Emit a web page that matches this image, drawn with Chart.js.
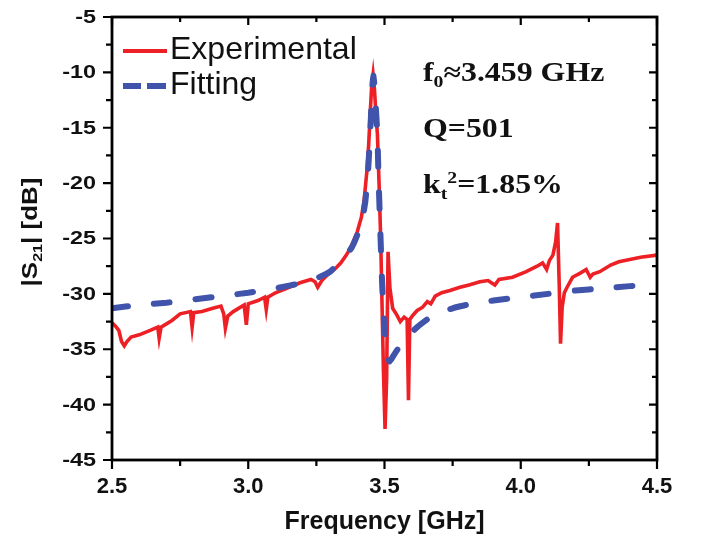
<!DOCTYPE html>
<html>
<head>
<meta charset="utf-8">
<script src="https://cdn.jsdelivr.net/npm/chart.js@4.4.1/dist/chart.umd.min.js"></script>
<style>
  html, body { margin: 0; padding: 0; background: #fff; }
</style>
</head>
<body>
<canvas id="s21Chart" width="701" height="538"></canvas>
<script>
// measured |S21| (GHz, dB)
const freqExp = [
  2.500, 2.512, 2.525, 2.535, 2.545, 2.555, 2.570, 2.600, 2.640, 2.668,
  2.673, 2.680, 2.720, 2.750, 2.788, 2.794, 2.800, 2.830, 2.870, 2.900,
  2.910, 2.916, 2.925, 2.945, 2.985, 2.993, 3.000, 3.036, 3.060, 3.066,
  3.072, 3.100, 3.150, 3.190, 3.230, 3.245, 3.255, 3.270, 3.290, 3.320,
  3.340, 3.360, 3.376, 3.400, 3.415, 3.425, 3.435, 3.442, 3.448, 3.453,
  3.458, 3.463, 3.468, 3.474, 3.480, 3.486, 3.491, 3.496, 3.502, 3.508,
  3.513, 3.520, 3.530, 3.545, 3.558, 3.572, 3.583, 3.588, 3.593, 3.605,
  3.620, 3.640, 3.657, 3.670, 3.686, 3.710, 3.740, 3.777, 3.810, 3.850,
  3.880, 3.905, 3.920, 3.970, 4.020, 4.060, 4.080, 4.095, 4.105, 4.118,
  4.128, 4.135, 4.141, 4.146, 4.152, 4.160, 4.170, 4.190, 4.220, 4.240,
  4.255, 4.265, 4.290, 4.330, 4.360, 4.400, 4.440, 4.500
];
const s21Exp = [
  -32.6, -32.9, -33.3, -34.3, -34.7, -34.3, -33.9, -33.7, -33.3, -33.0,
  -34.0, -33.0, -32.4, -31.8, -31.6, -33.0, -31.7, -31.6, -31.3, -31.1,
  -31.8, -33.1, -32.0, -31.6, -31.0, -32.8, -30.9, -30.6, -30.3, -31.4,
  -30.3, -29.9, -29.4, -29.0, -28.7, -28.9, -29.4, -28.8, -28.3, -27.7,
  -27.2, -26.5, -25.8, -24.4, -23.1, -21.6, -19.0, -16.5, -13.5, -11.2,
  -10.2, -11.5, -13.5, -15.6, -20.0, -25.0, -31.0, -36.8, -42.2, -37.5,
  -26.2, -29.5, -31.3, -31.9, -32.5, -32.1, -32.3, -39.6, -32.3, -31.9,
  -31.5, -31.2, -30.7, -30.9, -30.2, -29.9, -29.7, -29.4, -29.2, -28.9,
  -28.8, -29.2, -28.7, -28.5, -28.0, -27.5, -27.2, -27.8, -27.0, -26.5,
  -25.3, -23.6, -29.0, -34.5, -31.2, -29.9, -29.4, -28.5, -28.1, -27.8,
  -28.5, -28.2, -28.0, -27.4, -27.1, -26.9, -26.7, -26.5
];

// fitted curve (GHz, dB)
const freqFit = [
  2.50, 2.60, 2.70, 2.80, 2.90, 3.00, 3.10, 3.20, 3.25, 3.30,
  3.35, 3.38, 3.40, 3.42, 3.43, 3.44, 3.445, 3.45, 3.455, 3.459,
  3.463, 3.468, 3.474, 3.478, 3.485, 3.490, 3.495, 3.500, 3.505, 3.510,
  3.518, 3.525, 3.540, 3.570, 3.620, 3.680, 3.75, 3.80, 3.90, 4.00,
  4.10, 4.20, 4.30, 4.40, 4.50
];
const s21Fit = [
  -31.3, -31.0, -30.8, -30.5, -30.2, -29.9, -29.5, -29.0, -28.6, -28.0,
  -26.8, -25.8, -24.7, -23.1, -21.6, -18.8, -16.6, -14.1, -11.3, -10.3,
  -11.1, -13.1, -15.6, -19.4, -24.6, -28.2, -31.2, -33.2, -34.5, -35.5,
  -36.1, -35.9, -35.3, -34.2, -33.0, -31.9, -31.3, -31.0, -30.6, -30.3,
  -30.0, -29.7, -29.5, -29.3, -29.1
];

const seriesLabels = ['Experimental', 'Fitting'];
const xMajorTicks = [2.5, 3.0, 3.5, 4.0, 4.5];
const xMinorTicks = [2.75, 3.25, 3.75, 4.25];
const yMajorTicks = [-45, -40, -35, -30, -25, -20, -15, -10, -5];
const yMinorTicks = [-42.5, -37.5, -32.5, -27.5, -22.5, -17.5, -12.5, -7.5];

const RED = 'rgb(237, 32, 38)';
const BLUE = 'rgb(64, 84, 172)';
const SANS = "'Liberation Sans', Arial, sans-serif";
const SERIF = "'Liberation Serif', 'Times New Roman', serif";

Chart.defaults.font.family = SANS;
Chart.defaults.color = '#111';

// draws text pieces with sub/superscripts, stretched along the baseline like the original
function drawRich(ctx, parts, x, y, size, family, weight, stretch) {
  ctx.save();
  ctx.translate(x, y);
  ctx.scale(stretch, 1);
  let cx = 0;
  parts.forEach(p => {
    let fs = size, dy = 0;
    if (p.sub) { fs = size * 0.62; dy = size * 0.22; }
    if (p.sup) { fs = size * 0.62; dy = -size * 0.38; }
    ctx.font = weight + ' ' + fs + 'px ' + family;
    ctx.fillText(p.t, cx, dy);
    cx += ctx.measureText(p.t).width;
  });
  ctx.restore();
  return cx * stretch;
}

function richWidth(ctx, parts, size, family, weight, stretch) {
  let w = 0;
  parts.forEach(p => {
    const fs = (p.sub || p.sup) ? size * 0.62 : size;
    ctx.font = weight + ' ' + fs + 'px ' + family;
    w += ctx.measureText(p.t).width;
  });
  return w * stretch;
}

const decorations = {
  id: 'decorations',
  afterDatasetsDraw(chart) {
    const ctx = chart.ctx;
    const a = chart.chartArea;
    const xs = chart.scales.x, ys = chart.scales.y;
    ctx.save();
    ctx.strokeStyle = '#000';
    ctx.fillStyle = '#111';

    // frame
    ctx.lineWidth = 2.8;
    ctx.strokeRect(a.left, a.top, a.right - a.left, a.bottom - a.top);

    // ticks: outside on bottom/left, inside on top/right
    ctx.lineWidth = 2.2;
    ctx.beginPath();
    xMajorTicks.forEach(v => {
      const px = xs.getPixelForValue(v);
      ctx.moveTo(px, a.bottom); ctx.lineTo(px, a.bottom + 9);
      ctx.moveTo(px, a.top); ctx.lineTo(px, a.top + 8);
    });
    xMinorTicks.forEach(v => {
      const px = xs.getPixelForValue(v);
      ctx.moveTo(px, a.bottom); ctx.lineTo(px, a.bottom + 6);
      ctx.moveTo(px, a.top); ctx.lineTo(px, a.top + 5);
    });
    yMajorTicks.forEach(v => {
      const py = ys.getPixelForValue(v);
      ctx.moveTo(a.left, py); ctx.lineTo(a.left - 9, py);
      ctx.moveTo(a.right, py); ctx.lineTo(a.right - 8, py);
    });
    yMinorTicks.forEach(v => {
      const py = ys.getPixelForValue(v);
      ctx.moveTo(a.left, py); ctx.lineTo(a.left - 6, py);
      ctx.moveTo(a.right, py); ctx.lineTo(a.right - 5, py);
    });
    ctx.stroke();

    // y tick labels (wide, like the original)
    ctx.textBaseline = 'middle';
    ctx.textAlign = 'right';
    ys.ticks.forEach(t => {
      const py = ys.getPixelForValue(t.value);
      ctx.save();
      ctx.translate(a.left - 16, py + 1);
      ctx.scale(1.3, 1);
      ctx.font = 'bold 18px ' + SANS;
      ctx.fillText(String(t.value), 0, 0);
      ctx.restore();
    });

    // axis titles
    ctx.textBaseline = 'alphabetic';
    ctx.font = 'bold 25px ' + SANS;
    ctx.textAlign = 'center';
    ctx.fillText('Frequency [GHz]', (a.left + a.right) / 2, 529);

    ctx.save();
    ctx.translate(37, 232);
    ctx.rotate(-Math.PI / 2);
    ctx.textAlign = 'left';
    const yParts = [{t: '|S'}, {t: '21', sub: true}, {t: '| [dB]'}];
    const yw = richWidth(ctx, yParts, 22, SANS, 'bold', 1.18);
    drawRich(ctx, yParts, -yw / 2, 0, 22, SANS, 'bold', 1.18);
    ctx.restore();

    // legend
    const ds = chart.data.datasets;
    ctx.textAlign = 'left';
    ctx.lineCap = 'butt';
    ctx.strokeStyle = RED;
    ctx.lineWidth = 4;
    ctx.beginPath(); ctx.moveTo(123, 51); ctx.lineTo(167, 51); ctx.stroke();
    ctx.strokeStyle = BLUE;
    ctx.lineWidth = 6;
    ctx.beginPath();
    ctx.moveTo(123, 86); ctx.lineTo(141, 86);
    ctx.moveTo(147, 86); ctx.lineTo(166, 86);
    ctx.stroke();
    ctx.font = '32px ' + SANS;
    ctx.fillText(ds[0].label, 170, 59);
    ctx.fillText(ds[1].label, 170, 94);

    // fit parameters
    drawRich(ctx, [{t: 'f'}, {t: '0', sub: true}, {t: '≈3.459 GHz'}], 423, 81, 27, SERIF, 'bold', 1.18);
    drawRich(ctx, [{t: 'Q=501'}], 423, 137, 27, SERIF, 'bold', 1.18);
    drawRich(ctx, [{t: 'k'}, {t: 't', sub: true}, {t: '2', sup: true}, {t: '=1.85%'}], 423, 193, 27, SERIF, 'bold', 1.18);

    ctx.restore();
  }
};

const ctx = document.getElementById('s21Chart').getContext('2d');
const s21Chart = new Chart(ctx, {
  type: 'line',
  data: {
    datasets: [{
      label: seriesLabels[0],
      data: freqExp.map((f, i) => ({x: f, y: s21Exp[i]})),
      borderColor: RED,
      borderWidth: 3.6,
      pointRadius: 0,
      tension: 0,
      order: 2
    }, {
      label: seriesLabels[1],
      data: freqFit.map((f, i) => ({x: f, y: s21Fit[i]})),
      borderColor: BLUE,
      borderWidth: 6,
      borderDash: [16, 26],
      borderCapStyle: 'round',
      pointRadius: 0,
      tension: 0.1,
      order: 1
    }]
  },
  options: {
    responsive: false,
    animation: false,
    devicePixelRatio: 1,
    layout: { padding: { top: 17, right: 44, left: 0, bottom: 0 } },
    plugins: { legend: { display: false }, tooltip: { enabled: false } },
    scales: {
      x: {
        type: 'linear',
        min: 2.5, max: 4.5,
        afterBuildTicks: s => { s.ticks = xMajorTicks.map(v => ({value: v})); },
        afterFit: s => { s.height = 78; },
        grid: { display: false, drawTicks: false },
        border: { display: false },
        ticks: {
          padding: 14,
          maxRotation: 0,
          font: { size: 22, weight: 'bold' },
          callback: v => v.toFixed(1)
        }
      },
      y: {
        type: 'linear',
        min: -45, max: -5,
        afterBuildTicks: s => { s.ticks = yMajorTicks.map(v => ({value: v})); },
        afterFit: s => { s.width = 112; },
        grid: { display: false, drawTicks: false },
        border: { display: false },
        ticks: { display: false }
      }
    }
  },
  plugins: [decorations]
});
</script>
</body>
</html>
